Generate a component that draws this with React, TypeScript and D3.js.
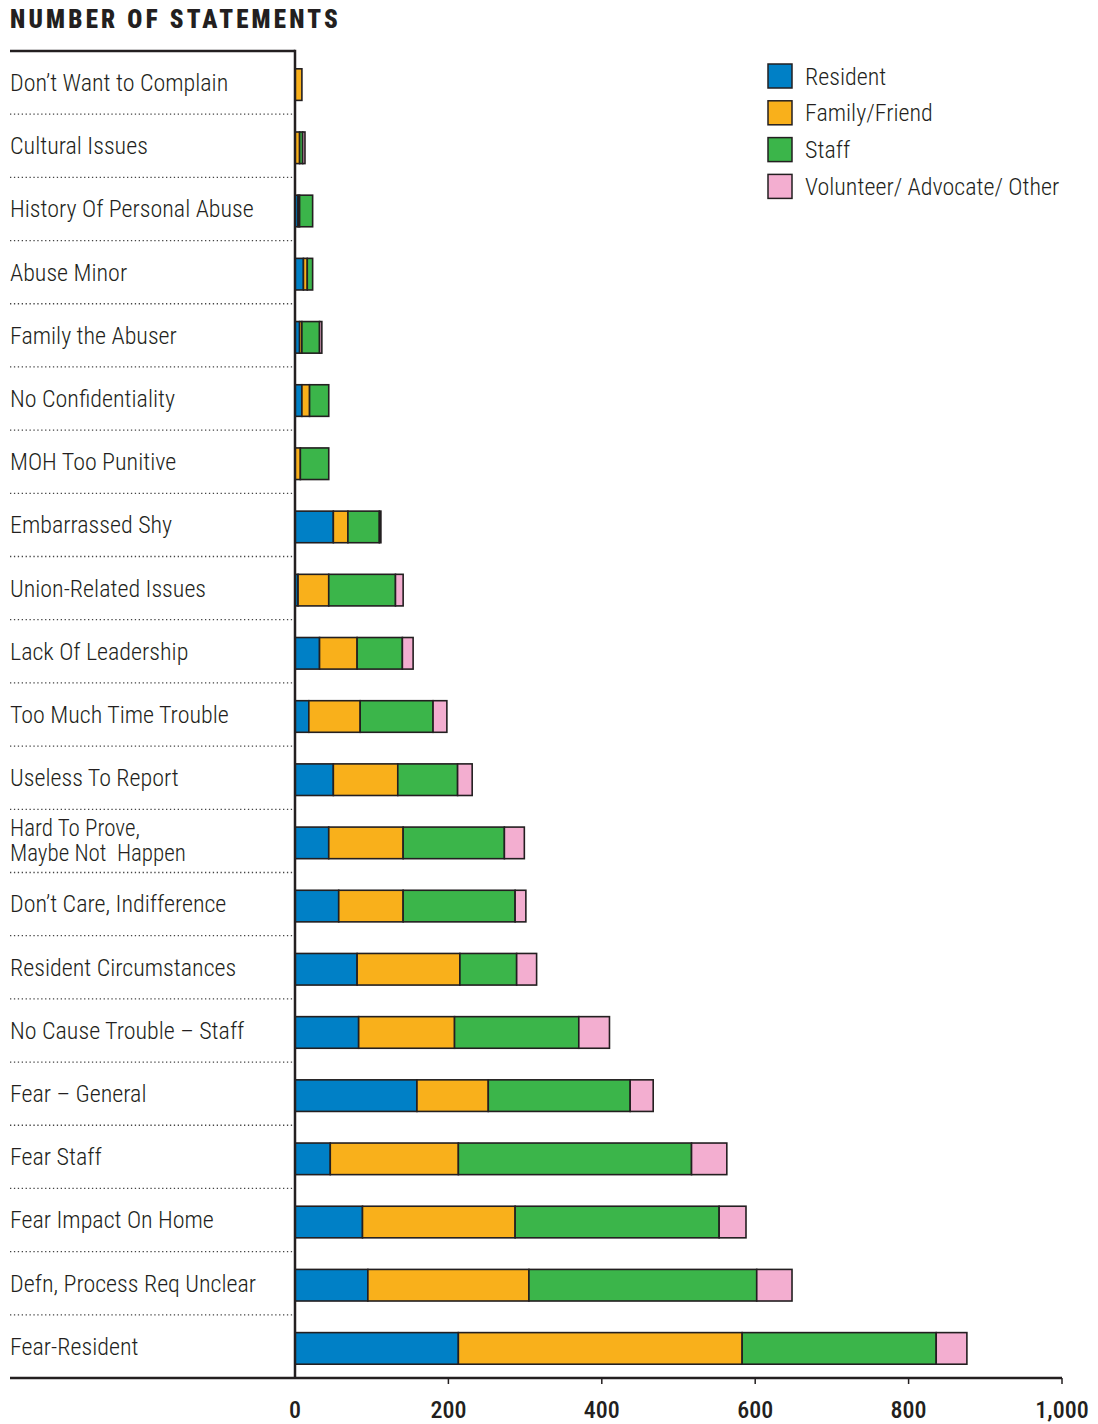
import { useEffect, useRef } from 'react'
import * as d3 from 'd3'

const categories = [
  "Don\u2019t Want to Complain",
  "Cultural Issues",
  "History Of Personal Abuse",
  "Abuse Minor",
  "Family the Abuser",
  "No Confidentiality",
  "MOH Too Punitive",
  "Embarrassed Shy",
  "Union-Related Issues",
  "Lack Of Leadership",
  "Too Much Time Trouble",
  "Useless To Report",
  "Hard To Prove,\nMaybe Not  Happen",
  "Don\u2019t Care, Indifference",
  "Resident Circumstances",
  "No Cause Trouble \u2013 Staff",
  "Fear \u2013 General",
  "Fear Staff",
  "Fear Impact On Home",
  "Defn, Process Req Unclear",
  "Fear-Resident",
]

const resident = [0, 0, 4, 11, 6, 9, 0, 50, 4, 32, 18, 50, 44, 57, 81, 83, 159, 46, 88, 95, 213]
const familyFriend = [9, 6, 2, 5, 3, 10, 7, 19, 40, 49, 67, 84, 97, 84, 134, 125, 93, 167, 199, 210, 370]
const staff = [0, 4, 17, 7, 23, 25, 37, 41, 87, 59, 95, 78, 132, 146, 74, 162, 185, 304, 266, 297, 253]
const other = [0, 3, 0, 0, 3, 0, 0, 2, 10, 14, 18, 19, 26, 14, 26, 40, 30, 46, 35, 46, 40]

const seriesNames = ["Resident", "Family/Friend", "Staff", "Volunteer/ Advocate/ Other"]
const seriesColors = ["#0080c6", "#f9b01b", "#3bb54a", "#f3aed0"]
const xTicks = [0, 200, 400, 600, 800, 1000]

const FONT = "'Roboto Condensed', Roboto, sans-serif"

export default function App() {
  const ref = useRef<SVGSVGElement>(null)

  useEffect(() => {
    const width = 1098, height = 1424
    const margin = { top: 51, bottom: 1378, left: 295, right: 1062, labelX: 10 }

    const svg = d3.select(ref.current)
    svg.selectAll("*").remove()

    const rows = categories.map((c, i) => ({
      cat: c,
      Resident: resident[i],
      "Family/Friend": familyFriend[i],
      Staff: staff[i],
      "Volunteer/ Advocate/ Other": other[i],
    }))

    const stacked = d3.stack<any>().keys(seriesNames)(rows)

    const x = d3.scaleLinear().domain([0, 1000]).range([margin.left, margin.right])
    const y = d3.scaleBand().domain(categories).range([margin.top, margin.bottom]).padding(0)
    const barH = y.bandwidth() * 0.5

    const color = d3.scaleOrdinal<string>().domain(seriesNames).range(seriesColors)

    // title
    svg.append("text")
      .attr("x", 10).attr("y", 28)
      .style("font-family", FONT)
      .style("font-weight", "900")
      .style("font-size", "25px")
      .style("letter-spacing", "3.2px")
      .style("fill", "#231f20")
      .text("NUMBER OF STATEMENTS")

    // dotted separators
    svg.append("g").selectAll("line")
      .data(categories.slice(1))
      .enter().append("line")
      .attr("x1", margin.labelX).attr("x2", margin.left)
      .attr("y1", d => y(d)!).attr("y2", d => y(d)!)
      .attr("stroke", "#444")
      .attr("stroke-width", 1.3)
      .attr("stroke-dasharray", "1.3,2.6")

    // labels
    svg.append("g").selectAll("text")
      .data(categories)
      .enter().append("text")
      .attr("x", margin.labelX)
      .attr("y", d => y(d)! + y.bandwidth() / 2)
      .attr("xml:space", "preserve")
      .style("font-family", FONT)
      .style("font-weight", "300")
      .style("font-size", "24px")
      .style("fill", "#231f20")
      .each(function (d) {
        const lines = d.split("\n")
        const t = d3.select(this)
        if (lines.length > 1) t.style("font-size", "23px")
        lines.forEach((l, i) => {
          t.append("tspan")
            .attr("x", margin.labelX)
            .attr("dy", i === 0 ? (lines.length > 1 ? "-0.2em" : "0.35em") : "1.08em")
            .text(l)
        })
      })

    // bars
    svg.append("g").selectAll("g")
      .data(stacked)
      .enter().append("g")
      .attr("fill", d => color(d.key))
      .selectAll("rect")
      .data(d => d.map((v, i) => ({ v, cat: categories[i] })))
      .enter().append("rect")
      .filter(d => d.v[1] - d.v[0] > 0)
      .attr("x", d => x(d.v[0]))
      .attr("y", d => y(d.cat)! + (y.bandwidth() - barH) / 2 + 2)
      .attr("width", d => x(d.v[1]) - x(d.v[0]))
      .attr("height", barH)
      .attr("stroke", "#231f20")
      .attr("stroke-width", 1.6)

    // frame
    svg.append("line")
      .attr("x1", margin.labelX).attr("x2", margin.left)
      .attr("y1", margin.top).attr("y2", margin.top)
      .attr("stroke", "#231f20").attr("stroke-width", 2.5)
    svg.append("line")
      .attr("x1", margin.left).attr("x2", margin.left)
      .attr("y1", margin.top - 1.2).attr("y2", margin.bottom)
      .attr("stroke", "#231f20").attr("stroke-width", 2.5)

    // x axis
    const axis = svg.append("g")
    axis.append("line")
      .attr("x1", margin.labelX).attr("x2", margin.right)
      .attr("y1", margin.bottom).attr("y2", margin.bottom)
      .attr("stroke", "#231f20").attr("stroke-width", 2.5)
    axis.selectAll("line.tick")
      .data(xTicks.slice(1))
      .enter().append("line")
      .attr("class", "tick")
      .attr("x1", d => x(d)).attr("x2", d => x(d))
      .attr("y1", margin.bottom).attr("y2", margin.bottom + 6)
      .attr("stroke", "#231f20").attr("stroke-width", 1.5)
    axis.selectAll("text")
      .data(xTicks)
      .enter().append("text")
      .attr("x", d => x(d))
      .attr("y", 1418)
      .attr("text-anchor", "middle")
      .style("font-family", FONT)
      .style("font-weight", "500")
      .style("font-size", "24px")
      .style("fill", "#231f20")
      .text(d => d3.format(",")(d))

    // legend
    const legend = svg.append("g")
    seriesNames.forEach((s, i) => {
      const ly = 64 + i * 36.8
      legend.append("rect")
        .attr("x", 768).attr("y", ly)
        .attr("width", 24).attr("height", 24)
        .attr("fill", color(s))
        .attr("stroke", "#231f20").attr("stroke-width", 1.5)
      legend.append("text")
        .attr("x", 805).attr("y", ly + 12)
        .attr("dy", "0.36em")
        .style("font-family", FONT)
        .style("font-weight", "300")
        .style("font-size", "24px")
        .style("fill", "#231f20")
        .text(s)
    })

    svg.attr("width", width).attr("height", height)
  }, [])

  return <svg ref={ref} width={1098} height={1424} style={{ position: 'absolute', left: 0, top: 0, background: '#fff' }} />
}
